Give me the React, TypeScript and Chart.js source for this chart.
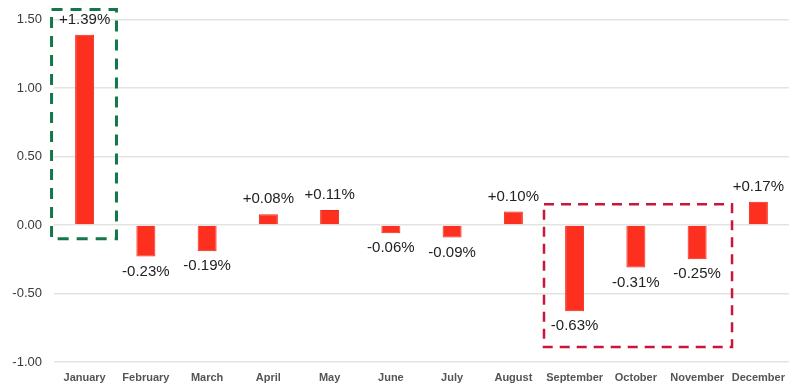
import React, { useEffect, useRef } from "react";
import { Chart, registerables } from "chart.js";

Chart.register(...registerables);

const months = ["January", "February", "March", "April", "May", "June", "July", "August", "September", "October", "November", "December"];
const changes = [1.39, -0.23, -0.19, 0.08, 0.11, -0.06, -0.09, 0.10, -0.63, -0.31, -0.25, 0.17];
const yTicks = [1.5, 1.0, 0.5, 0.0, -0.5, -1.0];

// highlight boxes: category index range and value range
const greenBox = { from: -0.54, to: 0.52, top: 1.575, bottom: -0.1 };
const redBox = { from: 7.5, to: 10.57, top: 0.152, bottom: -0.89 };

const fmt = (v: number) => (v >= 0 ? "+" : "-") + Math.abs(v).toFixed(2) + "%";

const labelPlugin = {
  id: "valueLabels",
  afterDatasetsDraw(chart: any) {
    const { ctx } = chart;
    const meta = chart.getDatasetMeta(0);
    ctx.save();
    ctx.font = "15px 'Liberation Sans', Arial, sans-serif";
    ctx.fillStyle = "#222";
    ctx.textAlign = "center";
    ctx.textBaseline = "middle";
    meta.data.forEach((bar: any, i: number) => {
      const v = changes[i];
      const y = v >= 0 ? bar.y - 15 : bar.y + 15;
      ctx.fillText(fmt(v), bar.x, y);
    });
    ctx.restore();
  },
};

const boxPlugin = {
  id: "highlightBoxes",
  afterDraw(chart: any) {
    const { ctx } = chart;
    const xs = chart.scales.x;
    const ys = chart.scales.y;
    const draw = (b: any, color: string, dash: number[], w: number) => {
      const x1 = xs.getPixelForValue(b.from);
      const x2 = xs.getPixelForValue(b.to);
      const y1 = ys.getPixelForValue(b.top);
      const y2 = ys.getPixelForValue(b.bottom);
      ctx.save();
      ctx.strokeStyle = color;
      ctx.lineWidth = w;
      ctx.setLineDash(dash);
      ctx.strokeRect(x1, y1, x2 - x1, y2 - y1);
      ctx.restore();
    };
    draw(greenBox, "#13774a", [11, 8], 3);
    draw(redBox, "#c8173a", [10, 7], 2.5);
  },
};

export default function App() {
  const ref = useRef<HTMLCanvasElement>(null);
  useEffect(() => {
    document.body.style.margin = "0";
    const chart = new Chart(ref.current!, {
      type: "bar",
      data: {
        labels: months,
        datasets: [
          {
            data: changes,
            backgroundColor: "#fd2f1e",
            borderColor: "#ee2a18",
            borderWidth: 1,
            categoryPercentage: 1,
            barPercentage: 0.31,
          },
        ],
      },
      options: {
        animation: false,
        responsive: false,
        layout: { padding: { top: 16, right: 10, left: 0, bottom: 0 } },
        plugins: { legend: { display: false }, tooltip: { enabled: false } },
        scales: {
          x: {
            grid: { display: false, drawTicks: false },
            border: { display: false },
            ticks: {
              padding: 9,
              color: "#555",
              font: { family: "'Liberation Sans', Arial, sans-serif", size: 11, weight: "bold" },
              maxRotation: 0,
              autoSkip: false,
            },
            afterFit: (s: any) => {
              s.height = 28;
            },
          },
          y: {
            min: -1,
            max: 1.5,
            afterBuildTicks: (s: any) => {
              s.ticks = yTicks.map((v) => ({ value: v }));
            },
            grid: { color: "#e3e3e3", drawTicks: false, lineWidth: 1.5 },
            border: { display: false },
            ticks: {
              padding: 12,
              color: "#3a3a3a",
              font: { family: "'Liberation Sans', Arial, sans-serif", size: 13 },
              callback: (v: any) => Number(v).toFixed(2),
            },
            afterFit: (s: any) => {
              s.width = 54;
            },
          },
        },
      },
      plugins: [labelPlugin, boxPlugin],
    });
    return () => chart.destroy();
  }, []);
  return (
    <div style={{ width: 799, height: 390 }}>
      <canvas ref={ref} width={799} height={390} />
    </div>
  );
}
